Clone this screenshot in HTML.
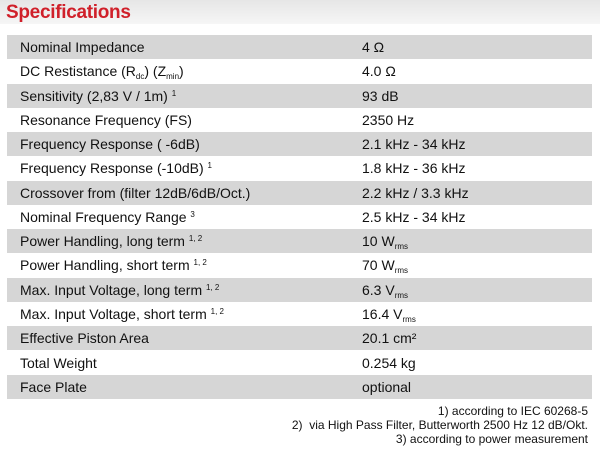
<!DOCTYPE html>
<html><head><style>
body{margin:0;width:600px;height:449px;overflow:hidden;background:#fff;font-family:"Liberation Sans",sans-serif;position:relative}
.hd{position:absolute;left:0;top:0;width:600px;height:24px;background:linear-gradient(#e6e6e6,#f6f6f6)}
.t{position:absolute;left:6px;top:2px;color:#d0202a;font-weight:bold;font-size:19px;letter-spacing:-0.3px}
.row{position:absolute;left:7px;width:585px;height:24.27px;font-size:14px;color:#111;line-height:24px}
.g{background:#d6d6d6}
.a{position:absolute;left:13px;top:0;white-space:nowrap;line-height:24px}
.b{position:absolute;left:355px;top:0;white-space:nowrap;line-height:24px}
sub{font-size:8px;vertical-align:baseline;position:relative;top:3px;line-height:0}
sup{font-size:8px;vertical-align:baseline;position:relative;top:-5px;line-height:0}
.f{position:absolute;right:12px;font-size:12px;color:#111;text-align:right;white-space:nowrap}
</style></head><body>
<div class="hd"></div><div class="t">Specifications</div>
<div class="row g" style="top:35px"><span class="a">Nominal Impedance</span><span class="b">4 Ω</span></div>
<div class="row" style="top:59.3px"><span class="a">DC Restistance (R<sub>dc</sub>) (Z<sub>min</sub>)</span><span class="b">4.0 Ω</span></div>
<div class="row g" style="top:83.5px"><span class="a">Sensitivity (2,83 V / 1m) <sup>1</sup></span><span class="b">93 dB</span></div>
<div class="row" style="top:107.8px"><span class="a">Resonance Frequency (FS)</span><span class="b">2350 Hz</span></div>
<div class="row g" style="top:132.1px"><span class="a">Frequency Response ( -6dB)</span><span class="b">2.1 kHz - 34 kHz</span></div>
<div class="row" style="top:156.3px"><span class="a">Frequency Response (-10dB) <sup>1</sup></span><span class="b">1.8 kHz - 36 kHz</span></div>
<div class="row g" style="top:180.6px"><span class="a">Crossover from (filter 12dB/6dB/Oct.)</span><span class="b">2.2 kHz / 3.3 kHz</span></div>
<div class="row" style="top:204.9px"><span class="a">Nominal Frequency Range <sup>3</sup></span><span class="b">2.5 kHz - 34 kHz</span></div>
<div class="row g" style="top:229.2px"><span class="a">Power Handling, long term <sup>1, 2</sup></span><span class="b">10 W<sub>rms</sub></span></div>
<div class="row" style="top:253.4px"><span class="a">Power Handling, short term <sup>1, 2</sup></span><span class="b">70 W<sub>rms</sub></span></div>
<div class="row g" style="top:277.7px"><span class="a">Max. Input Voltage, long term <sup>1, 2</sup></span><span class="b">6.3 V<sub>rms</sub></span></div>
<div class="row" style="top:302px"><span class="a">Max. Input Voltage, short term <sup>1, 2</sup></span><span class="b">16.4 V<sub>rms</sub></span></div>
<div class="row g" style="top:326.2px"><span class="a">Effective Piston Area</span><span class="b">20.1 cm²</span></div>
<div class="row" style="top:350.5px"><span class="a">Total Weight</span><span class="b">0.254 kg</span></div>
<div class="row g" style="top:374.8px"><span class="a">Face Plate</span><span class="b">optional</span></div>
<div class="f" style="top:404px">1) according to IEC 60268-5</div>
<div class="f" style="top:418px">2)&nbsp; via High Pass Filter, Butterworth 2500 Hz 12 dB/Okt.</div>
<div class="f" style="top:432px">3) according to power measurement</div>
</body></html>
